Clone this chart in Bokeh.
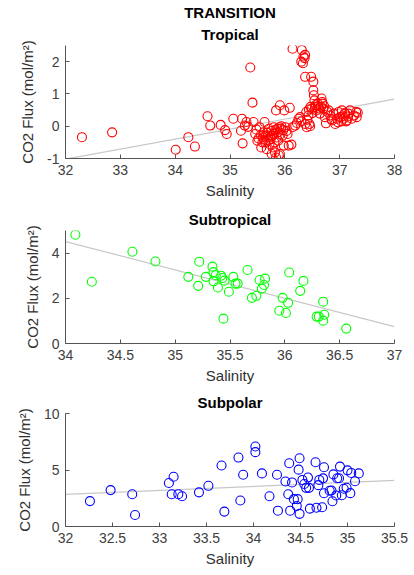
from bokeh.plotting import figure
from bokeh.models import Title, Range1d, FixedTicker, CustomJSTickFormatter
from bokeh.layouts import column
from bokeh.embed import file_html
from bokeh.resources import INLINE

# ---------------- data ----------------
trop_salinity = [32.30, 32.85, 34.01, 34.24, 34.36, 34.59, 34.64, 34.83, 34.91, 34.94,
                 35.06, 35.20, 35.22, 35.23, 35.27, 35.30, 35.33, 35.37, 35.41, 35.43,
                 35.46, 35.48, 35.50, 35.52, 35.54, 35.56, 35.57, 35.59, 35.60, 35.61,
                 35.62, 35.63, 35.64, 35.65, 35.67, 35.68, 35.69, 35.70, 35.71, 35.72,
                 35.73, 35.74, 35.75, 35.76, 35.77, 35.78, 35.79, 35.80, 35.81, 35.82,
                 35.83, 35.84, 35.84, 35.85, 35.86, 35.87, 35.88, 35.89, 35.90, 35.91,
                 35.91, 35.92, 35.93, 35.94, 35.96, 35.97, 35.98, 35.99, 36.01, 36.03,
                 36.05, 36.07, 36.09, 36.12, 36.14, 36.14, 36.19, 36.22, 36.25, 36.28,
                 36.30, 36.30, 36.31, 36.33, 36.34, 36.36, 36.37, 36.37, 36.37, 36.39,
                 36.40, 36.41, 36.43, 36.44, 36.45, 36.46, 36.47, 36.48, 36.49, 36.50,
                 36.52, 36.52, 36.53, 36.54, 36.55, 36.56, 36.58, 36.60, 36.61, 36.63,
                 36.64, 36.66, 36.67, 36.68, 36.69, 36.70, 36.72, 36.73, 36.75, 36.77,
                 36.80, 36.83, 36.85, 36.86, 36.89, 36.92, 36.95, 36.97, 36.98, 37.01,
                 37.03, 37.04, 37.06, 37.07, 37.09, 37.10, 37.12, 37.13, 37.15, 37.16,
                 37.19, 37.22, 37.26, 37.30, 37.31, 37.33]
trop_flux = [-0.34, -0.19, -0.73, -0.34, -0.63, 0.31, 0.02, 0.04, -0.12, -0.24,
             0.23, -0.14, 0.23, -0.53, 0.02, 0.13, -0.02, 1.82, 0.73, 0.13,
             -0.24, -0.10, -0.45, -0.38, -0.03, -0.28, -0.66, -0.50, -0.34, -0.19,
             -0.42, 0.13, -0.50, -0.30, -0.71, -0.20, -0.29, -0.45, -0.08, -0.55,
             -0.35, -0.40, -0.15, -0.86, -0.30, -0.66, -0.24, -0.03, -0.50, -0.81,
             -0.12, 0.49, -0.97, -0.35, -0.08, -0.19, -0.45, -0.90, -0.03, 0.65,
             -0.86, -0.25, -0.08, 0.00, -0.29, -0.12, -0.60, 0.49, -0.03, -0.15,
             -0.24, -0.60, 0.57, -0.57, -0.03, 2.40, 0.02, 0.10, 0.23, 0.28,
             0.15, 2.00, 2.36, 1.95, 2.16, 2.11, 2.21, 1.53, 0.07, 0.44,
             -0.03, 0.20, 0.33, 0.52, 0.07, 0.00, 0.60, 1.53, 0.54, 0.40,
             1.38, 1.11, 0.96, 0.80, 0.59, 0.65, 0.49, 0.70, 0.62, 0.55,
             0.39, 0.60, 0.86, 0.75, 0.70, 0.54, 0.62, 0.28, 0.09, 0.45,
             0.49, 0.33, 0.22, 0.18, 0.39, 0.07, 0.23, 0.12, 0.44, 0.28,
             0.15, 0.49, 0.30, 0.23, 0.40, 0.39, 0.15, 0.18, 0.30, 0.39,
             0.49, 0.23, 0.33, 0.44, 0.28, 0.42]
trop_fit_salinity = [32.0, 38.0]
trop_fit_flux = [-1.02, 0.84]

subt_salinity = [34.09, 34.24, 34.61, 34.82, 35.12, 35.22, 35.21, 35.28, 35.34, 35.35,
                 35.35, 35.37, 35.39, 35.42, 35.43, 35.45, 35.44, 35.49, 35.53, 35.55,
                 35.57, 35.66, 35.70, 35.74, 35.77, 35.79, 35.81, 35.82, 35.98, 35.95,
                 36.01, 36.03, 36.04, 36.14, 36.17, 36.29, 36.31, 36.35, 36.36, 36.35,
                 36.56]
subt_flux = [4.81, 2.73, 4.06, 3.63, 2.95, 3.62, 2.55, 2.95, 3.40, 3.16,
             2.75, 3.02, 2.48, 3.00, 2.90, 2.78, 1.10, 2.29, 2.95, 2.65,
             2.65, 3.25, 2.02, 2.11, 2.81, 2.43, 2.59, 2.87, 2.02, 1.45,
             1.35, 1.80, 3.14, 2.33, 2.77, 1.19, 1.19, 1.85, 1.27, 1.01,
             0.66]
subt_fit_salinity = [34.0, 37.0]
subt_fit_flux = [4.51, 0.75]

subp_salinity = [32.26, 32.48, 32.71, 32.74, 33.10, 33.15, 33.13, 33.20, 33.24, 33.42,
                 33.52, 33.66, 33.69, 33.84, 33.86, 33.89, 34.02, 34.02, 34.09, 34.17,
                 34.25, 34.26, 34.34, 34.38, 34.37, 34.39, 34.41, 34.43, 34.46, 34.47,
                 34.48, 34.49, 34.49, 34.52, 34.54, 34.56, 34.58, 34.59, 34.60, 34.66,
                 34.67, 34.69, 34.70, 34.73, 34.74, 34.75, 34.75, 34.81, 34.83, 34.84,
                 34.85, 34.88, 34.89, 34.91, 34.92, 34.94, 34.96, 34.99, 35.00, 35.03,
                 35.04, 35.08, 35.12]
subp_flux = [2.25, 3.22, 2.85, 1.02, 3.85, 4.40, 2.85, 2.86, 2.68, 3.02,
             3.60, 5.40, 1.32, 6.10, 2.30, 4.58, 7.08, 6.58, 4.70, 2.68,
             4.58, 1.40, 3.98, 5.60, 2.85, 1.40, 3.90, 2.42, 1.82, 2.42,
             5.03, 6.04, 1.12, 4.12, 3.76, 3.42, 4.33, 3.42, 1.58, 5.69,
             1.66, 3.66, 4.12, 1.70, 4.26, 2.94, 5.24, 3.16, 3.19, 2.23,
             4.61, 2.75, 4.27, 4.27, 5.30, 2.77, 3.34, 3.43, 4.97, 2.95,
             4.74, 4.00, 4.70]
subp_fit_salinity = [32.0, 35.5]
subp_fit_flux = [2.84, 4.08]

FONT = "Liberation Sans"


def panel(title, xr, yr, xticks, yticks, sal, flux, fit_x, fit_y, color,
          top, bottom, sub_title=None, title_standoff=6, sub_standoff=5):
    p = figure(frame_width=329, frame_height=113,
               x_range=Range1d(*xr), y_range=Range1d(*yr),
               output_backend="svg", toolbar_location=None,
               min_border_left=65, min_border_right=20,
               min_border_top=top, min_border_bottom=bottom,
               background_fill_color="white", border_fill_color="white")
    p.title.text = title
    p.title.align = "center"
    p.title.text_font = FONT
    p.title.text_font_size = "15px"
    p.title.text_font_style = "bold"
    p.title.text_color = "black"
    p.title.standoff = title_standoff
    if sub_title:
        t = Title(text=sub_title, align="center", text_font=FONT,
                  text_font_size="15px", text_font_style="bold",
                  text_color="black", standoff=sub_standoff)
        p.add_layout(t, "above")
    p.outline_line_color = None
    p.grid.visible = False
    fmt = CustomJSTickFormatter(code="return String(Math.round(tick*10)/10);")
    for ax, ticks in ((p.xaxis, xticks), (p.yaxis, yticks)):
        ax.ticker = FixedTicker(ticks=ticks)
        ax.formatter = fmt
        ax.major_tick_in = 4
        ax.major_tick_out = 0
        ax.minor_tick_line_color = None
        ax.axis_line_color = "#555555"
        ax.major_tick_line_color = "#555555"
        ax.major_label_text_font = FONT
        ax.major_label_text_font_size = "14px"
        ax.major_label_text_color = "#404040"
        ax.axis_label_text_font = FONT
        ax.axis_label_text_font_size = "15px"
        ax.axis_label_text_font_style = "normal"
        ax.axis_label_text_color = "#303030"
    p.xaxis.axis_label = "Salinity"
    p.yaxis.axis_label = "CO2 Flux (mol/m\u00b2)"
    p.xaxis.major_label_standoff = 6
    p.xaxis.axis_label_standoff = 4
    p.yaxis.major_label_standoff = 6
    p.yaxis.axis_label_standoff = 8
    p.line(fit_x, fit_y, line_color="#c8c8c8", line_width=1.2)
    p.scatter(sal, flux, marker="circle", size=9, fill_color=None,
              line_color=color, line_width=1.1)
    return p


p1 = panel("TRANSITION", (32, 38), (-1, 2.5), [32, 33, 34, 35, 36, 37, 38], [-1, 0, 1, 2],
           trop_salinity, trop_flux, trop_fit_salinity, trop_fit_flux, "#ff0000",
           top=45, bottom=42, sub_title="Tropical", title_standoff=1, sub_standoff=5)
p2 = panel("Subtropical", (34, 37), (0, 5), [34, 34.5, 35, 35.5, 36, 36.5, 37], [0, 2, 4],
           subt_salinity, subt_flux, subt_fit_salinity, subt_fit_flux, "#00ff00",
           top=29, bottom=42, title_standoff=6)
p3 = panel("Subpolar", (32, 35.5), (0, 10), [32, 32.5, 33, 33.5, 34, 34.5, 35, 35.5], [0, 5, 10],
           subp_salinity, subp_flux, subp_fit_salinity, subp_fit_flux, "#0000ff",
           top=27, bottom=48, title_standoff=6)

layout = column(p1, p2, p3, spacing=0)
open("out.html", "w").write(file_html(layout, INLINE))
